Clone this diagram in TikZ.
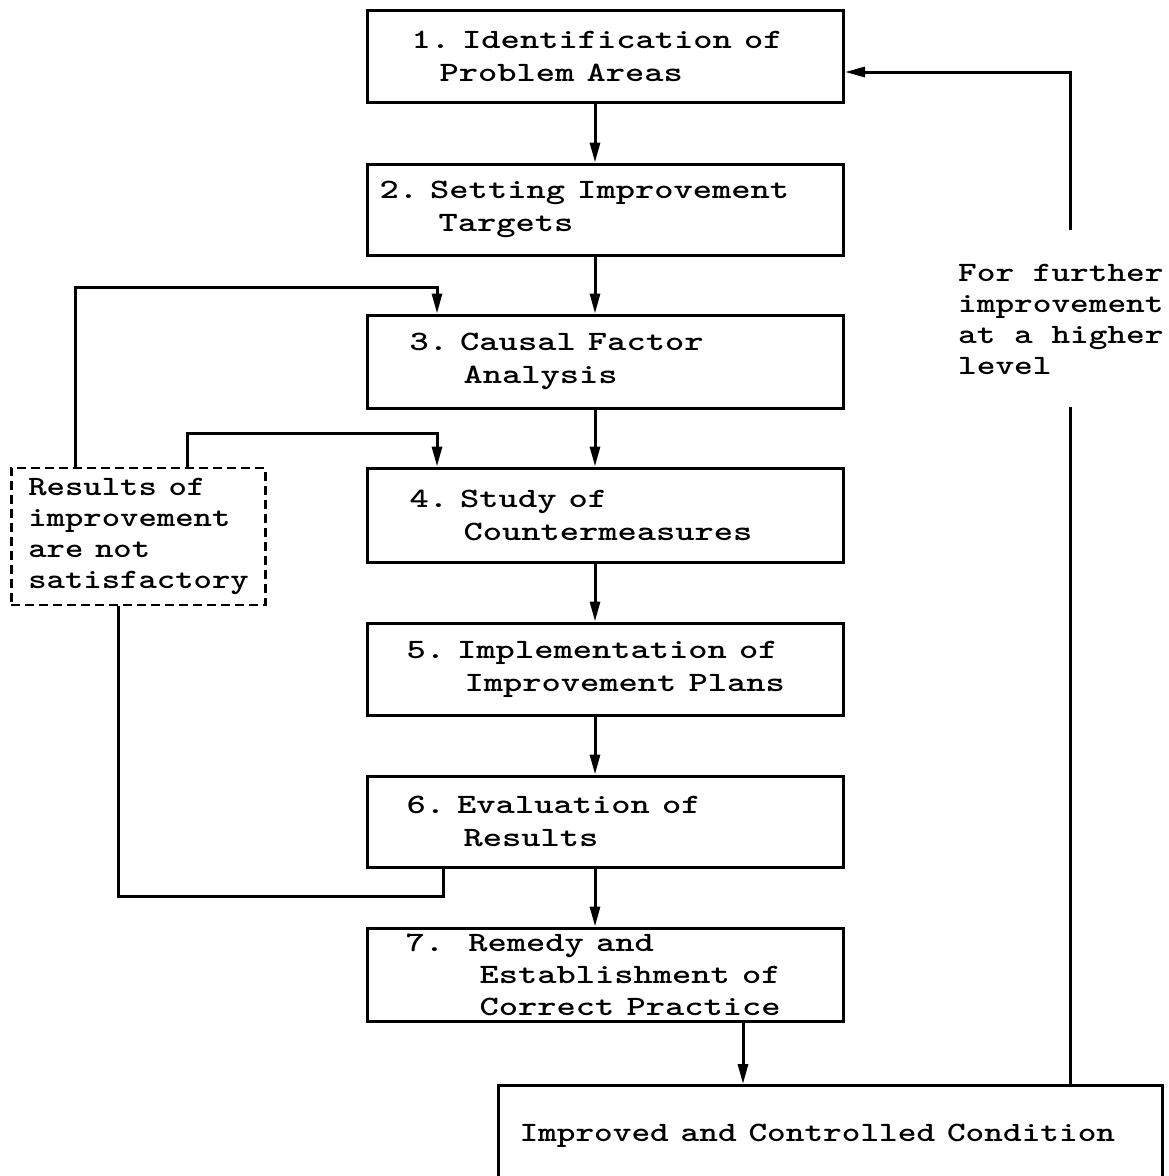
\documentclass[tikz,border=0pt]{standalone}
\usepackage{graphicx}
\usetikzlibrary{arrows.meta}
\newcommand\twl[2][1.31]{\scalebox{#1}[1]{#2}}
\begin{document}
\begin{tikzpicture}[x=1pt,y=-1pt,
  box/.style={draw,line width=3pt,rectangle,align=left,inner ysep=0pt,anchor=west,
    font=\ttfamily\bfseries\frenchspacing\fontsize{28}{33}\selectfont},
  dbox/.style={box,dash pattern=on 9pt off 5pt,line width=2.6pt},
  conn/.style={line width=3pt},
  arr/.style={conn,-{Triangle[length=20pt,width=10pt]}}]
\useasboundingbox (0,0) rectangle (1168,1176);
\fill[white] (0,0) rectangle (1168,1176);

\node[box,inner xsep=44pt,text width=388pt,minimum height=92pt] (b1) at (366,56)
  {\twl{1. Identification of}\\\hspace*{28pt}\twl{Problem Areas}};
\node[box,inner xsep=12pt,text width=452pt,minimum height=91pt] (b2) at (366,209.5)
  {\twl{2. Setting Improvement}\\\hspace*{59pt}\twl{Targets}};
\node[box,inner xsep=42pt,text width=392pt,minimum height=93pt] (b3) at (366,361.5)
  {\twl{3. Causal Factor}\\\hspace*{54pt}\twl{Analysis}};
\node[box,inner xsep=42pt,text width=392pt,minimum height=94pt] (b4) at (366,515)
  {\twl{4. Study of}\\\hspace*{54pt}\twl{Countermeasures}};
\node[box,inner xsep=39pt,text width=398pt,minimum height=92pt] (b5) at (366,669)
  {\twl{5. Implementation of}\\\hspace*{58pt}\twl{Improvement Plans}};
\node[box,inner xsep=39pt,text width=398pt,minimum height=91pt] (b6) at (366,821.5)
  {\twl{6. Evaluation of}\\\hspace*{57pt}\twl{Results}};
\node[box,inner xsep=38pt,text width=400pt,minimum height=93pt,
  font=\ttfamily\bfseries\frenchspacing\fontsize{28}{32}\selectfont] (b7) at (366,974.5)
  {\twl{7.~~Remedy and}\\\hspace*{74pt}\twl{Establishment of}\\\hspace*{74pt}\twl{Correct Practice}};
\node[box,anchor=north west,inner xsep=21pt,text width=622pt,minimum height=127pt] (fin) at (497,1084)
  {\twl[1.27]{Improved and Controlled Condition}\\\mbox{}};
\node[dbox,inner xsep=17pt,text width=220pt,minimum height=137pt,
  font=\ttfamily\bfseries\frenchspacing\fontsize{28}{31}\selectfont] (res) at (10,536.5)
  {\twl[1.25]{Results of}\\\twl[1.25]{improvement}\\\twl[1.25]{are not}\\\twl[1.25]{satisfactory}};
\node[align=left,anchor=west,inner sep=0pt,
  font=\ttfamily\bfseries\frenchspacing\fontsize{28}{31}\selectfont] (fb) at (958,319)
  {\twl[1.27]{For further}\\\twl[1.27]{improvement}\\\twl[1.27]{at a higher}\\\twl[1.27]{level}};

% main chain
\coordinate (cx) at (595,0);
\draw[arr] (b1.south -| cx) -- (b2.north -| cx);
\draw[arr] (b2.south -| cx) -- (b3.north -| cx);
\draw[arr] (b3.south -| cx) -- (b4.north -| cx);
\draw[arr] (b4.south -| cx) -- (b5.north -| cx);
\draw[arr] (b5.south -| cx) -- (b6.north -| cx);
\draw[arr] (b6.south -| cx) -- (b7.north -| cx);
\coordinate (cy) at (743,0);
\draw[arr] (b7.south -| cy) -- (fin.north -| cy);

% feedback to step 1
\coordinate (fx) at (1070,0);
\coordinate (fgapb) at (1070,407);
\coordinate (fgapt) at (1070,230);
\coordinate (fturn) at (1070,72);
\draw[conn] (fin.north -| fx) -- (fgapb);
\draw[arr] (fgapt) -- (fturn) -- (b1.east |- fturn);

% loops from dashed box
\coordinate (l1a) at (75,0);
\coordinate (l1) at (437,287);
\draw[arr] (res.north -| l1a) |- (l1) -- (b3.north -| l1);
\coordinate (l2a) at (187,0);
\coordinate (l2) at (437,433);
\draw[arr] (res.north -| l2a) |- (l2) -- (b4.north -| l2);
\coordinate (l3a) at (118,0);
\coordinate (l3) at (443,896);
\draw[conn] (b6.south -| l3) -- (l3) -| (res.south -| l3a);
\end{tikzpicture}
\end{document}
